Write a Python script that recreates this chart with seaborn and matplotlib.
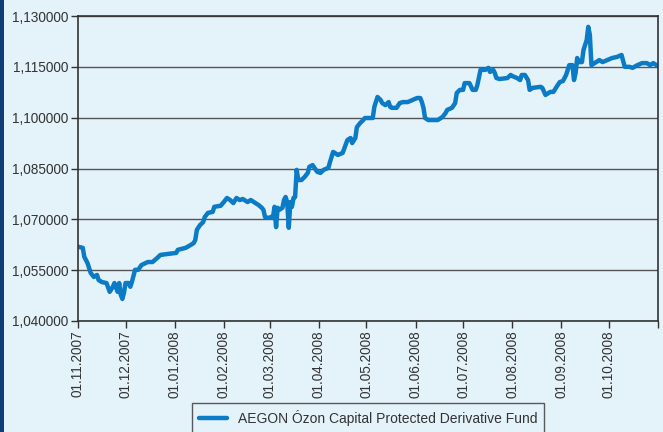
import numpy as np
import pandas as pd
import matplotlib as mpl
import matplotlib.pyplot as plt
import matplotlib.ticker as ticker
import matplotlib.dates as mdates
from matplotlib.patches import Rectangle
import seaborn as sns

# data: days since 01.11.2007 and fund price
days = [0, 3, 4, 6, 8, 10, 12, 13, 15, 18, 20, 22, 23, 25, 26, 27, 28, 29, 30, 32,
        33, 34, 36, 38, 40, 44, 47, 50, 52, 57, 62, 63, 68, 71, 73, 74, 75, 77, 79, 80,
        82, 85, 86, 90, 92, 94, 96, 98, 100, 102, 104, 107, 109, 112, 114, 116, 117, 118, 120, 122,
        123, 124, 125, 126, 127, 129, 130, 131, 132, 133, 134, 135, 136, 137, 138, 139, 141, 143, 145, 146,
        148, 151, 153, 155, 158, 159, 161, 164, 167, 170, 172, 173, 175, 176, 178, 180, 181, 186, 187, 189,
        191, 192, 194, 196, 197, 198, 201, 203, 205, 208, 211, 214, 216, 217, 218, 219, 221, 227, 230, 232,
        233, 236, 238, 239, 241, 243, 244, 247, 249, 251, 252, 254, 257, 259, 260, 262, 263, 264, 266, 271,
        273, 274, 277, 279, 280, 282, 284, 285, 287, 292, 293, 295, 298, 300, 302, 304, 306, 308, 310, 312,
        313, 314, 315, 316, 318, 319, 321, 322, 323, 324, 326, 329, 331, 334, 337, 340, 343, 345, 348, 350,
        353, 356, 359, 361, 363, 365]
price = [1.0619, 1.0616, 1.0589, 1.0571, 1.0542, 1.0530, 1.0536, 1.0521, 1.0515, 1.0512,
         1.0486, 1.0501, 1.0512, 1.0486, 1.0512, 1.0477, 1.0465, 1.0483, 1.0512, 1.0512,
         1.0501, 1.0515, 1.0551, 1.0551, 1.0565, 1.0574, 1.0574, 1.0586, 1.0595, 1.0598,
         1.0601, 1.0610, 1.0616, 1.0624, 1.0630, 1.0639, 1.0669, 1.0683, 1.0692, 1.0707,
         1.0719, 1.0722, 1.0737, 1.0740, 1.0751, 1.0763, 1.0757, 1.0748, 1.0763, 1.0757,
         1.0760, 1.0751, 1.0757, 1.0748, 1.0742, 1.0734, 1.0728, 1.0707, 1.0704, 1.0707,
         1.0704, 1.0737, 1.0677, 1.0734, 1.0728, 1.0734, 1.0757, 1.0766, 1.0751, 1.0675,
         1.0751, 1.0737, 1.0763, 1.0766, 1.0846, 1.0816, 1.0816, 1.0825, 1.0837, 1.0855,
         1.0860, 1.0840, 1.0837, 1.0846, 1.0852, 1.0869, 1.0899, 1.0890, 1.0896, 1.0934,
         1.0940, 1.0925, 1.0940, 1.0972, 1.0984, 1.0993, 1.0999, 1.0999, 1.1032, 1.1061,
         1.1052, 1.1043, 1.1037, 1.1046, 1.1032, 1.1029, 1.1029, 1.1043, 1.1046, 1.1046,
         1.1052, 1.1058, 1.1058, 1.1046, 1.1029, 1.0999, 1.0993, 1.0993, 1.1002, 1.1014,
         1.1023, 1.1029, 1.1043, 1.1073, 1.1082, 1.1082, 1.1102, 1.1102, 1.1082, 1.1082,
         1.1096, 1.1141, 1.1141, 1.1147, 1.1135, 1.1141, 1.1132, 1.1117, 1.1114, 1.1117,
         1.1126, 1.1123, 1.1117, 1.1111, 1.1126, 1.1126, 1.1111, 1.1082, 1.1088, 1.1091,
         1.1088, 1.1067, 1.1076, 1.1076, 1.1091, 1.1105, 1.1108, 1.1126, 1.1155, 1.1155,
         1.1111, 1.1132, 1.1176, 1.1164, 1.1164, 1.1200, 1.1229, 1.1268, 1.1244, 1.1155,
         1.1161, 1.1170, 1.1164, 1.1170, 1.1176, 1.1179, 1.1185, 1.1150, 1.1150, 1.1147,
         1.1155, 1.1161, 1.1161, 1.1155, 1.1161, 1.1155]
fund_name = 'AEGON Ózon Capital Protected Derivative Fund'
y_ticks = [1.040, 1.055, 1.070, 1.085, 1.100, 1.115, 1.130]

start = pd.Timestamp('2007-11-01')
df = pd.DataFrame({'date': start + pd.to_timedelta(days, unit='D'), 'value': price})

sns.set_style('white')
plt.rcParams['font.family'] = ['Liberation Sans', 'DejaVu Sans']

bg = '#e4f2f9'
fig = plt.figure(figsize=(6.63, 4.32), dpi=100, facecolor=bg)
ax = fig.add_axes([78 / 663, 1 - 321 / 432, 580 / 663, 305 / 432])
ax.set_facecolor(bg)

sns.lineplot(data=df, x='date', y='value', ax=ax, color='#0a7bc4', linewidth=3.2,
             label=fund_name, legend=False)

ax.set_xlim(start, pd.Timestamp('2008-11-01'))
ax.set_ylim(1.040, 1.130)
ax.set_yticks(y_ticks)
ax.yaxis.set_major_formatter(ticker.FuncFormatter(lambda v, p: f'{v:.6f}'.replace('.', ',')))
months = pd.date_range('2007-11-01', '2008-11-01', freq='MS')
ax.set_xticks(months)
ax.set_xticklabels([m.strftime('%d.%m.%Y') for m in months[:-1]] + [''], rotation=90)
ax.grid(axis='y', color='#555555', linewidth=1.0)
ax.set_axisbelow(True)
ax.set_xlabel('')
ax.set_ylabel('')
for s in ax.spines.values():
    s.set_visible(True)
    s.set_color('#333333')
    s.set_linewidth(1.2)
ax.tick_params(axis='both', which='major', direction='out', length=5, width=1.0,
               color='#333333', labelsize=9.8, labelcolor='#333333', pad=2,
               left=True, bottom=True)

# dark strip on the left edge
fig.patches.append(Rectangle((0, 0), 4 / 663, 1, transform=fig.transFigure,
                             facecolor='#123c74', edgecolor='none'))

handles, labels = ax.get_legend_handles_labels()
leg = fig.legend(handles, labels, loc='upper center', bbox_to_anchor=(368 / 663, 1 - 403 / 432),
                 fontsize=10, frameon=True, fancybox=False, edgecolor='#333333',
                 facecolor=bg, handlelength=2.0, borderpad=0.5, borderaxespad=0)
leg.get_frame().set_linewidth(1.0)
for t in leg.get_texts():
    t.set_color('#333333')

fig.savefig('out.png', dpi=100, facecolor=bg)
